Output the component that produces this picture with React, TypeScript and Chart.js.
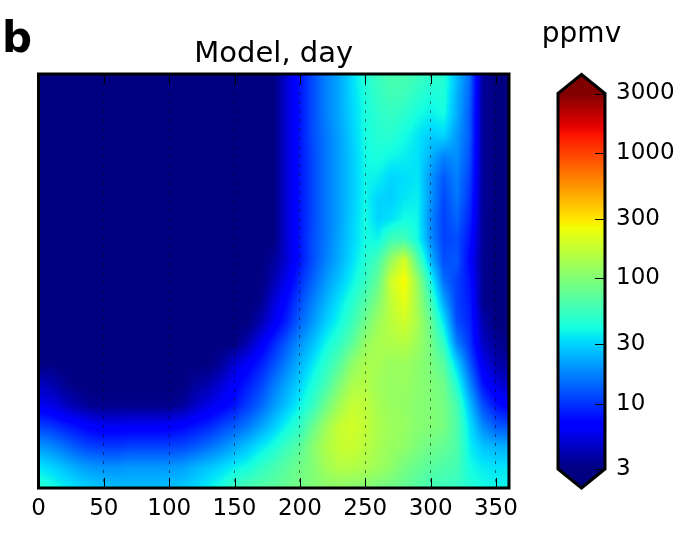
import React, { useEffect, useRef } from "react";
import { Chart, registerables } from "chart.js";

Chart.register(...registerables);

const FONT = "'DejaVu Sans'";
const dayTicks = [0, 50, 100, 150, 200, 250, 300, 350];
const colorbarTicks = [3, 10, 30, 100, 300, 1000, 3000];
const colorbarUnit = "ppmv";
const days = [0,10,20,30,40,50,60,70,80,90,100,110,120,130,140,150,160,170,180,190,200,210,220,230,240,250,260,270,280,290,300,310,320,330,340,350,360];

const row00 = [3,3,3,3,3,3,3,3,3,3,3,3,3,3,3,3,3,3,3,5,8,12,17,22,32,44,55,62,62,56,50,46,26,15,3.5,3,3];
const row01 = [3,3,3,3,3,3,3,3,3,3,3,3,3,3,3,3,3,3,3,5,8,12,17,22,31,42,52,58,56,48,42,44,24,14,3.5,3,3];
const row02 = [3,3,3,3,3,3,3,3,3,3,3,3,3,3,3,3,3,3,3,5,8,12,17,22,30,41,48,52,48,40,36,40,23,13,3.5,3,3];
const row03 = [3,3,3,3,3,3,3,3,3,3,3,3,3,3,3,3,3,3,3,5,8,12,16,21,29,40,46,46,40,34,28,30,20,13,3.5,3,3];
const row04 = [3,3,3,3,3,3,3,3,3,3,3,3,3,3,3,3,3,3,3,5,8,11.5,16,21,28,39,42,38,36,33,24,17,19,12,3.5,3,3];
const row05 = [3,3,3,3,3,3,3,3,3,3,3,3,3,3,3,3,3,3,3,5,8,11.5,16,21,28,38,36,30,32,34,20,13,17,11,3.5,3,3];
const row06 = [3,3,3,3,3,3,3,3,3,3,3,3,3,3,3,3,3,3,3,5,8,11.5,16,21,28,38,30,29,34,36,20,11.5,16,10,3.5,3,3];
const row07 = [3,3,3,3,3,3,3,3,3,3,3,3,3,3,3,3,3,3,3,5,8,11.5,16,21,29,40,30,33,40,38,18,11,14,9,3.4,3,3];
const row08 = [3,3,3,3,3,3,3,3,3,3,3,3,3,3,3,3,3,3,3,5,8,12,16,22,30,40,38,58,58,40,19,11,12,8,3.4,3,3];
const row09 = [3,3,3,3,3,3,3,3,3,3,3,3,3,3,3,3,3,3,3.5,5,8,12,17,23,32,44,60,120,200,70,25,12,13,7,3.3,3,3];
const row10 = [3,3,3,3,3,3,3,3,3,3,3,3,3,3,3,3,3,3,4,6,9.5,14,20,27,37,52,78,190,270,120,42,15,11,8,3.3,3,3];
const row11 = [3,3,3,3,3,3,3,3,3,3,3,3,3,3,3,3,3,3.2,5,7.5,11.5,17,24,33,46,66,100,170,230,130,60,22,11,8.5,3.3,3,3];
const row12 = [3,3,3,3,3,3,3,3,3,3,3,3,3,3,3,3,3,4,6,9,14,20,29,39,55,85,125,160,190,140,80,34,12,9,4,3,3];
const row13 = [3,3,3,3,3,3,3,3,3,3,3,3,3,3,3,3,4,6,9,13,19,26,38,50,72,115,140,145,155,125,90,50,17,10,4.5,3.5,3];
const row14 = [3,3,3,3,3,3,3,3,3,3,3,3,3,3,3.5,5,6.5,8.5,12,17,24,34,48,68,110,140,135,120,125,110,95,70,30,13,6,4,3.5];
const row15 = [4.5,4,3.3,3,3,3,3,3,3,3,3,3,3.5,4,5,6.5,8.5,11,16,22,30,42,60,95,140,150,125,118,120,108,100,85,45,18,8,5.5,4.5];
const row16 = [6,5.5,4.5,3.8,3.3,3.2,3.2,3.2,3.2,3.2,3.2,3.5,4.5,5.5,6.5,8,10.5,14,20,27,37,52,85,130,175,165,135,120,115,105,100,90,62,26,12,8,6.5];
const row17 = [11,10,8.5,7.5,6.5,6,6,6.2,6.2,6.2,6.5,7,8,9,11,13,16,21,28,38,50,80,125,175,195,170,140,125,118,105,100,92,65,33,18,13,12];
const row18 = [20,18,15,12.5,11,10.5,10.5,11,11,11,11,11.5,13,15,18,22,27,34,42,55,70,105,145,175,180,160,135,120,112,95,85,78,65,36,27,24,23];
const row19 = [34,30,26,22,20,19,19,20,20,20,20,21,24,27,31,36,41,50,60,72,85,100,130,150,150,140,125,110,90,80,70,65,60,40,35,33,33];
const row20 = [48,42,36,32,29,27,26,26,26,26,27,28,31,36,42,55,62,68,72,80,90,98,105,108,105,100,92,85,76,66,58,55,52,46,40,38,38];
const rows = [row00,row01,row02,row03,row04,row05,row06,row07,row08,row09,row10,row11,row12,row13,row14,row15,row16,row17,row18,row19,row20];

const VMIN = 3, VMAX = 3000;
type Seg = number[][];
const JR: Seg = [[0,0],[0.35,0],[0.66,1],[0.89,1],[1,0.5]];
const JG: Seg = [[0,0],[0.125,0],[0.375,1],[0.64,1],[0.91,0],[1,0]];
const JB: Seg = [[0,0.5],[0.11,1],[0.34,1],[0.65,0],[1,0]];
function seg(s: Seg, f: number) {
  for (let i = 1; i < s.length; i++) {
    if (f <= s[i][0]) {
      const t = (f - s[i-1][0]) / (s[i][0] - s[i-1][0]);
      return s[i-1][1] + t * (s[i][1] - s[i-1][1]);
    }
  }
  return s[s.length-1][1];
}
function jet(f: number): [number, number, number] {
  const c = Math.max(0, Math.min(1, f));
  return [Math.round(seg(JR,c)*255), Math.round(seg(JG,c)*255), Math.round(seg(JB,c)*255)];
}
const frac = (v: number) => Math.log10(v / VMIN) / Math.log10(VMAX / VMIN);

// Gouraud-like shading of the cells: colour of every canvas pixel from the data grid, via the chart's scales.
const patterns = new WeakMap<object, CanvasPattern>();
function heatPattern(chart: any) {
  const area = chart.chartArea;
  if (!area || !chart.scales.x || !chart.scales.y) return "#00007f";
  const hit = patterns.get(chart);
  if (hit) return hit;
  const W = chart.width, H = chart.height;
  const off = document.createElement("canvas");
  off.width = W; off.height = H;
  const octx = off.getContext("2d")!;
  const img = octx.createImageData(W, H);
  const logs = rows.map((r) => r.map(frac));
  const x0 = Math.floor(area.left), x1 = Math.ceil(area.right);
  const y0 = Math.floor(area.top), y1 = Math.ceil(area.bottom);
  for (let py = y0; py < y1; py++) {
    const ry = Math.max(0, Math.min(rows.length - 1.0001, chart.scales.y.getValueForPixel(py + 0.5)));
    const j = Math.floor(ry), tj = ry - j;
    for (let px = x0; px < x1; px++) {
      const d = Math.max(0, Math.min(359.99, chart.scales.x.getValueForPixel(px + 0.5)));
      const i = Math.floor(d / 10), ti = d / 10 - i;
      const a = logs[j][i] * (1 - ti) + logs[j][i+1] * ti;
      const b = logs[j+1][i] * (1 - ti) + logs[j+1][i+1] * ti;
      const [r, g, bl] = jet(a * (1 - tj) + b * tj);
      const k = (py * W + px) * 4;
      img.data[k] = r; img.data[k+1] = g; img.data[k+2] = bl; img.data[k+3] = 255;
    }
  }
  octx.putImageData(img, 0, 0);
  const p = chart.ctx.createPattern(off, "no-repeat")!;
  patterns.set(chart, p);
  return p;
}

const framePlugin = {
  id: "frame",
  afterDraw(chart: any) {
    const { ctx, chartArea: a, scales } = chart;
    ctx.save();
    ctx.strokeStyle = "#000";
    ctx.lineWidth = 1;
    dayTicks.forEach((d) => {
      const x = Math.round(scales.x.getPixelForValue(d)) + 0.5;
      ctx.beginPath();
      ctx.moveTo(x, a.top); ctx.lineTo(x, a.top + 10);
      ctx.moveTo(x, a.bottom); ctx.lineTo(x, a.bottom - 10);
      ctx.stroke();
    });
    ctx.lineWidth = 3;
    ctx.strokeRect(a.left, a.top, a.right - a.left, a.bottom - a.top);
    ctx.restore();
  },
};

const TRI = 19;
const barFrame = {
  id: "barFrame",
  beforeDatasetsDraw(chart: any) {
    const { ctx, chartArea: a } = chart;
    const mid = (a.left + a.right) / 2;
    ctx.save();
    ctx.fillStyle = `rgb(${jet(1).join(",")})`;
    ctx.beginPath(); ctx.moveTo(a.left, a.top + 0.5); ctx.lineTo(mid, a.top - TRI); ctx.lineTo(a.right, a.top + 0.5); ctx.closePath(); ctx.fill();
    ctx.fillStyle = `rgb(${jet(0).join(",")})`;
    ctx.beginPath(); ctx.moveTo(a.left, a.bottom - 0.5); ctx.lineTo(mid, a.bottom + TRI); ctx.lineTo(a.right, a.bottom - 0.5); ctx.closePath(); ctx.fill();
    ctx.restore();
  },
  afterDatasetsDraw(chart: any) {
    const { ctx, chartArea: a, scales } = chart;
    const mid = (a.left + a.right) / 2;
    ctx.save();
    ctx.strokeStyle = "#000";
    ctx.lineWidth = 1;
    colorbarTicks.forEach((v) => {
      const y = Math.round(scales.y.getPixelForValue(v)) + 0.5;
      ctx.beginPath(); ctx.moveTo(a.right - 10, y); ctx.lineTo(a.right, y); ctx.stroke();
    });
    ctx.lineWidth = 3;
    ctx.lineJoin = "miter";
    ctx.beginPath();
    ctx.moveTo(a.left, a.top); ctx.lineTo(mid, a.top - TRI); ctx.lineTo(a.right, a.top);
    ctx.lineTo(a.right, a.bottom); ctx.lineTo(mid, a.bottom + TRI); ctx.lineTo(a.left, a.bottom);
    ctx.closePath(); ctx.stroke();
    ctx.fillStyle = "#000";
    ctx.font = `28px ${FONT}`;
    ctx.textAlign = "center";
    ctx.textBaseline = "alphabetic";
    ctx.fillText(colorbarUnit, mid, 42);
    ctx.restore();
  },
};

export default function App() {
  const mainRef = useRef<HTMLCanvasElement>(null);
  const barRef = useRef<HTMLCanvasElement>(null);
  useEffect(() => {
    const main = new Chart(mainRef.current!, {
      type: "bar",
      data: {
        datasets: rows.map((r, j) => ({
          label: `row ${j}`,
          data: r.map((v, i) => ({ x: days[i], y: [j - 0.5, j + 0.5], ppmv: v })),
          backgroundColor: (c: any) => heatPattern(c.chart),
          borderWidth: 0,
          inflateAmount: 1,
          grouped: false,
          barPercentage: 1,
          categoryPercentage: 1,
        })) as any,
      },
      options: {
        responsive: false,
        animation: false,
        events: [],
        layout: { padding: { left: 38.5, right: 186, top: 37, bottom: 0 } },
        plugins: {
          legend: { display: false },
          tooltip: { enabled: false },
          title: {
            display: true, text: "Model, day", color: "#000", fullSize: false,
            font: { family: FONT, size: 29, weight: "normal" },
            padding: { top: 0, bottom: 2.2 },
          },
        },
        scales: {
          x: {
            type: "linear", min: 0, max: 360, offset: false,
            afterBuildTicks: (s: any) => { s.ticks = dayTicks.map((value) => ({ value })); },
            afterFit: (s: any) => { s.height = 51; },
            ticks: { color: "#000", font: { family: FONT, size: 23 }, padding: 7, maxRotation: 0, autoSkip: false },
            grid: { color: "rgba(0,0,0,0.5)", drawTicks: false, z: 1, offset: false },
            border: { display: false, dash: [3, 6] },
          },
          y: { type: "linear", display: false, reverse: true, min: 0, max: rows.length - 1 },
        },
      } as any,
      plugins: [framePlugin],
    });
    const bar = new Chart(barRef.current!, {
      type: "bar",
      data: {
        labels: [colorbarUnit],
        datasets: [{
          label: colorbarUnit,
          data: [[VMIN, VMAX]] as any,
          barPercentage: 1, categoryPercentage: 1, borderWidth: 0,
          backgroundColor: (c: any) => {
            const a = c.chart.chartArea;
            if (!a) return "#000";
            const g = c.chart.ctx.createLinearGradient(0, a.bottom, 0, a.top);
            for (let i = 0; i <= 64; i++) g.addColorStop(i / 64, `rgb(${jet(i / 64).join(",")})`);
            return g;
          },
        }],
      },
      options: {
        responsive: false,
        animation: false,
        events: [],
        layout: { padding: { left: 28, right: 0, top: 93.5, bottom: 70 } },
        plugins: { legend: { display: false }, tooltip: { enabled: false } },
        scales: {
          x: { display: false },
          y: {
            type: "logarithmic", position: "right", min: VMIN, max: VMAX,
            afterBuildTicks: (s: any) => { s.ticks = colorbarTicks.map((value) => ({ value })); },
            afterFit: (s: any) => { s.width = 90; },
            ticks: { color: "#000", font: { family: FONT, size: 23 }, padding: 11, autoSkip: false, callback: (v: any) => String(v) },
            grid: { display: false, drawTicks: false },
            border: { display: false },
          },
        },
      } as any,
      plugins: [barFrame],
    });
    return () => { main.destroy(); bar.destroy(); };
  }, []);
  return (
    <div>
      <canvas ref={mainRef} width={695} height={539} style={{ position: "absolute", left: 0, top: 0, display: "block" }} />
      <canvas ref={barRef} width={165} height={539} style={{ position: "absolute", left: 530, top: 0, display: "block" }} />
      <div style={{ position: "absolute", left: 2, top: 14, fontFamily: FONT, fontWeight: "bold", fontSize: 42, lineHeight: "48px", color: "#000" }}>b</div>
    </div>
  );
}
